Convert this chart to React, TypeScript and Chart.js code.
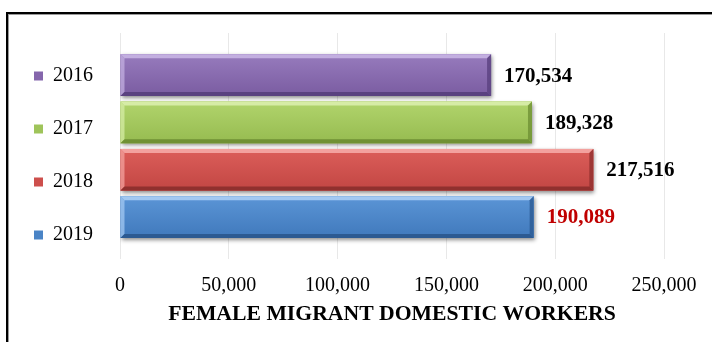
import React, { useEffect, useRef } from 'react';
import { Chart, registerables } from 'chart.js';

Chart.register(...registerables);

// ---- data ----
const years = ['2016', '2017', '2018', '2019'];
const workers = [170534, 189328, 217516, 190089];
const xTickValues = [0, 50000, 100000, 150000, 200000, 250000];
const axisTitle = 'FEMALE MIGRANT DOMESTIC WORKERS';

// ---- styles ----
const SERIF = "'Times New Roman', 'Liberation Serif', serif";
const faceColors = ['#8566ac', '#9fc45a', '#cd4f4c', '#4a84c6'];
// [highlight, faceTop, faceBottom, dark]
const bevelPalette = [
  ['#c3afe0', '#977bbd', '#7a5ca1', '#5a4180'],
  ['#d6eca6', '#b1d46c', '#96bb50', '#6f9134'],
  ['#f3a19e', '#dc5e5a', '#c24643', '#90302e'],
  ['#a3c8f1', '#5b95d6', '#4079bc', '#2c5a92'],
];
const valueLabelColors = ['#000000', '#000000', '#000000', '#c00000'];

const fmt = (v: number) => Number(v).toLocaleString('en-US');

const shadowPlugin = {
  id: 'barShadow',
  beforeDatasetsDraw(chart: any) {
    const ctx = chart.ctx;
    ctx.save();
    ctx.shadowColor = 'rgba(0,0,0,0.45)';
    ctx.shadowBlur = 4;
    ctx.shadowOffsetX = 1;
    ctx.shadowOffsetY = 2;
  },
  afterDatasetsDraw(chart: any) {
    chart.ctx.restore();
  },
};

const bevelPlugin = {
  id: 'bevel',
  afterDatasetsDraw(chart: any) {
    const ctx = chart.ctx;
    chart.data.datasets.forEach((ds: any, di: number) => {
      const meta = chart.getDatasetMeta(di);
      const pal = bevelPalette[di];
      meta.data.forEach((el: any, i: number) => {
        const { x, y, base, height } = el.getProps(['x', 'y', 'base', 'height'], true);
        const l = Math.min(base, x);
        const r = Math.max(base, x);
        const t = y - height / 2;
        const b = y + height / 2;
        const bv = 4;
        ctx.save();
        const g = ctx.createLinearGradient(0, t, 0, b);
        g.addColorStop(0, pal[1]);
        g.addColorStop(1, pal[2]);
        ctx.fillStyle = g;
        ctx.fillRect(l, t, r - l, b - t);
        // top bevel
        ctx.fillStyle = pal[0];
        ctx.beginPath();
        ctx.moveTo(l, t); ctx.lineTo(r, t); ctx.lineTo(r - bv, t + bv); ctx.lineTo(l + bv, t + bv); ctx.closePath();
        ctx.fill();
        // left bevel
        ctx.globalAlpha = 0.75;
        ctx.beginPath();
        ctx.moveTo(l, t); ctx.lineTo(l + bv, t + bv); ctx.lineTo(l + bv, b - bv); ctx.lineTo(l, b); ctx.closePath();
        ctx.fill();
        ctx.globalAlpha = 1;
        // bottom bevel
        ctx.fillStyle = pal[3];
        ctx.beginPath();
        ctx.moveTo(l, b); ctx.lineTo(r, b); ctx.lineTo(r - bv, b - bv); ctx.lineTo(l + bv, b - bv); ctx.closePath();
        ctx.fill();
        // right bevel
        ctx.globalAlpha = 0.8;
        ctx.beginPath();
        ctx.moveTo(r, t); ctx.lineTo(r, b); ctx.lineTo(r - bv, b - bv); ctx.lineTo(r - bv, t + bv); ctx.closePath();
        ctx.fill();
        ctx.globalAlpha = 1;
        ctx.restore();

        // value label
        ctx.save();
        ctx.font = `bold 21px ${SERIF}`;
        ctx.fillStyle = valueLabelColors[di];
        ctx.textAlign = 'left';
        ctx.textBaseline = 'middle';
        ctx.fillText(fmt(ds.data[i]), r + 13, y + 1);
        ctx.restore();
      });
    });
  },
};

export default function App() {
  const ref = useRef<HTMLCanvasElement | null>(null);

  useEffect(() => {
    if (!ref.current) return;
    const chart = new Chart(ref.current, {
      type: 'bar',
      data: {
        labels: [''],
        datasets: years.map((yr, i) => ({
          label: yr,
          data: [workers[i]],
          backgroundColor: faceColors[i],
          borderWidth: 0,
          barPercentage: 0.88,
          categoryPercentage: 0.837,
        })),
      },
      options: {
        indexAxis: 'y',
        responsive: false,
        animation: false,
        devicePixelRatio: 1,
        events: [],
        layout: { padding: { top: 33, left: 1, right: 48, bottom: 0 } },
        plugins: {
          tooltip: { enabled: false },
          legend: {
            display: true,
            position: 'left',
            align: 'start',
            maxWidth: 100,
            labels: {
              boxWidth: 9,
              boxHeight: 9,
              padding: 33,
              color: '#000',
              font: { family: SERIF, size: 20 },
            },
          },
        },
        scales: {
          y: {
            type: 'category',
            display: true,
            ticks: { display: false },
            grid: { display: false },
            border: { display: false },
            afterFit: (s: any) => {
              s.width = 19;
            },
          },
          x: {
            type: 'linear',
            min: 0,
            max: 250000,
            afterBuildTicks: (s: any) => {
              s.ticks = xTickValues.map((v) => ({ value: v }));
            },
            ticks: {
              color: '#000',
              padding: 15,
              font: { family: SERIF, size: 20 },
              callback: (v: any) => fmt(v),
            },
            grid: { color: '#e8e8e8', drawTicks: false },
            border: { display: false },
            title: {
              display: true,
              text: axisTitle,
              color: '#000',
              font: { family: SERIF, size: 21.7, weight: 'bold' },
              padding: { top: -11.6, bottom: 14.4 },
            },
          },
        },
      },
      plugins: [shadowPlugin, bevelPlugin],
    } as any);
    return () => chart.destroy();
  }, []);

  return (
    <div
      style={{
        position: 'fixed',
        left: 0,
        top: 0,
        width: 712,
        height: 342,
        overflow: 'hidden',
        background: '#fff',
      }}
    >
      <canvas
        ref={ref}
        width={712}
        height={342}
        style={{ position: 'absolute', left: 0, top: 0, width: 712, height: 342 }}
      />
      <div
        style={{
          position: 'absolute',
          left: 6,
          top: 12,
          width: 800,
          height: 400,
          borderLeft: '2px solid #000',
          borderTop: '2px solid #000',
          boxShadow: 'inset 1px 1px 0 #9a9a9a',
          pointerEvents: 'none',
        }}
      />
    </div>
  );
}
